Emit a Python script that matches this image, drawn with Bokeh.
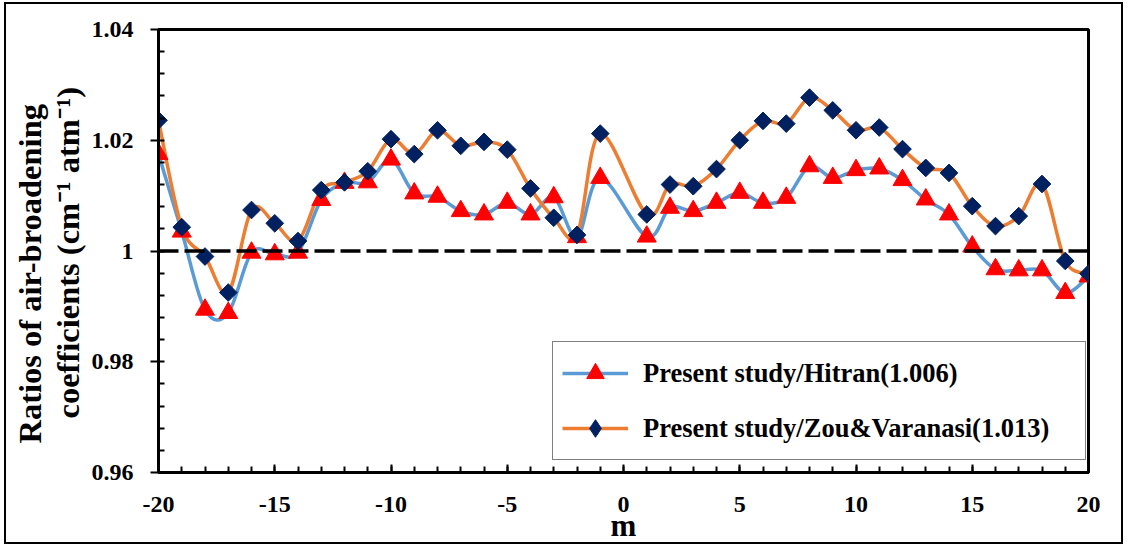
import numpy as np
from bokeh.plotting import figure
from bokeh.models import (FixedTicker, Span, Legend, LegendItem, ColumnDataSource, Range1d, Title)
from bokeh.embed import file_html
from bokeh.resources import INLINE

# ---- data ----
m = [-20, -19, -18, -17, -16, -15, -14, -13, -12, -11, -10, -9, -8, -7, -6, -5, -4, -3, -2, -1,
     1, 2, 3, 4, 5, 6, 7, 8, 9, 10, 11, 12, 13, 14, 15, 16, 17, 18, 19, 20]
hitran = [1.0175, 1.0035, 0.9894, 0.9888, 0.9997, 0.9994, 0.9997, 1.0092, 1.0123, 1.0124,
          1.0165, 1.0104, 1.0098, 1.0072, 1.0066, 1.0087, 1.0066, 1.0097, 1.0025, 1.0132,
          1.0026, 1.0078, 1.0072, 1.0087, 1.0105, 1.0087, 1.0096, 1.0153, 1.0132, 1.0146,
          1.0149, 1.0128, 1.0093, 1.0066, 1.0008, 0.9967, 0.9965, 0.9965, 0.9924, 0.9954]
zou = [1.0236, 1.0043, 0.9990, 0.9925, 1.0074, 1.0050, 1.0018, 1.0110, 1.0124, 1.0144,
       1.0202, 1.0175, 1.0218, 1.0190, 1.0197, 1.0183, 1.0113, 1.0060, 1.0029, 1.0212,
       1.0066, 1.0120, 1.0117, 1.0148, 1.0200, 1.0235, 1.0230, 1.0277, 1.0254, 1.0218,
       1.0223, 1.0184, 1.0150, 1.0141, 1.0081, 1.0045, 1.0063, 1.0121, 0.9982, 0.9959]
labels = ["Present study/Hitran(1.006)", "Present study/Zou&Varanasi(1.013)"]
x_ticks = [-20, -15, -10, -5, 0, 5, 10, 15, 20]
x_minor = list(range(-20, 21))
x_tick_labels = {t: str(t) for t in x_ticks}
y_ticks = [0.96, 0.98, 1.0, 1.02, 1.04]
y_minor = [round(0.96 + 0.004 * i, 3) for i in range(21)]
y_tick_labels = {0.96: "0.96", 0.98: "0.98", 1.0: "1", 1.02: "1.02", 1.04: "1.04"}
y_title = ["Ratios of air-broadening", "coefficients (cm\u207b\u00b9 atm\u207b\u00b9)"]
x_title = "m"

FONT = "Liberation Serif"
FONT_SUP = "Liberation Serif, Noto Sans"


def smooth_segments(xs, ys):
    """Catmull-Rom style bezier control points (Excel 'smoothed line')."""
    xs = np.asarray(xs, float)
    ys = np.asarray(ys, float)
    n = len(xs)
    d = dict(x0=[], y0=[], x1=[], y1=[], cx0=[], cy0=[], cx1=[], cy1=[])
    for i in range(n - 1):
        p0 = i - 1 if i > 0 else i
        p3 = i + 2 if i + 2 < n else i + 1
        d["x0"].append(xs[i]); d["y0"].append(ys[i])
        d["x1"].append(xs[i + 1]); d["y1"].append(ys[i + 1])
        d["cx0"].append(xs[i] + (xs[i + 1] - xs[p0]) / 6)
        d["cy0"].append(ys[i] + (ys[i + 1] - ys[p0]) / 6)
        d["cx1"].append(xs[i + 1] - (xs[p3] - xs[i]) / 6)
        d["cy1"].append(ys[i + 1] - (ys[p3] - ys[i]) / 6)
    return ColumnDataSource(d)


p = figure(width=1119, height=542, output_backend="svg", toolbar_location=None,
           x_range=Range1d(-20, 20), y_range=Range1d(0.96, 1.04),
           min_border_left=152, min_border_right=37, min_border_top=25, min_border_bottom=74)
p.styles = {"margin-left": "4px", "margin-top": "2px", "border": "2px solid black"}
p.grid.visible = False
p.background_fill_color = "white"
p.border_fill_color = "white"
p.outline_line_color = "black"
p.outline_line_width = 3

# axes
xa = p.xaxis[0]
xa.ticker = FixedTicker(ticks=x_ticks, minor_ticks=x_minor)
xa.major_label_overrides = x_tick_labels
xa.axis_line_width = 3
xa.major_tick_line_width = 2
xa.minor_tick_line_width = 2
xa.major_tick_in = 8
xa.major_tick_out = 0
xa.minor_tick_in = 6
xa.minor_tick_out = 0
xa.major_label_text_font = FONT
xa.major_label_text_font_style = "bold"
xa.major_label_text_font_size = "24px"
xa.major_label_text_color = "black"
xa.major_label_standoff = 24
xa.axis_label = x_title
xa.axis_label_text_font = FONT
xa.axis_label_text_font_style = "bold"
xa.axis_label_text_font_size = "31px"
xa.axis_label_text_color = "black"
xa.axis_label_standoff = -7

ya = p.yaxis[0]
ya.ticker = FixedTicker(ticks=y_ticks, minor_ticks=y_minor)
ya.major_label_overrides = y_tick_labels
ya.axis_line_width = 3
ya.major_tick_line_width = 2
ya.minor_tick_line_width = 2
ya.major_tick_in = 0
ya.major_tick_out = 8
ya.minor_tick_in = 6
ya.minor_tick_out = 0
ya.major_label_text_font = FONT
ya.major_label_text_font_style = "bold"
ya.major_label_text_font_size = "24px"
ya.major_label_text_color = "black"
ya.major_label_standoff = 17

# two-line y title as side titles (inner line first), placed like the reference
for txt, off, so in [(y_title[1], 54, 5), (y_title[0], 29, -5)]:
    p.add_layout(Title(text=txt, align="left", offset=off, standoff=so,
                       text_font=FONT_SUP, text_font_style="bold", text_font_size="32.5px",
                       text_color="black"), "left")

# reference line at 1
p.add_layout(Span(location=1.0, dimension="width", line_color="black",
                  line_width=3.5, line_dash="20 6"))

src_h = smooth_segments(m, hitran)
src_z = smooth_segments(m, zou)
bh = p.bezier(x0="x0", y0="y0", x1="x1", y1="y1", cx0="cx0", cy0="cy0", cx1="cx1", cy1="cy1",
              source=src_h, line_color="#5B9BD5", line_width=3.5)
bz = p.bezier(x0="x0", y0="y0", x1="x1", y1="y1", cx0="cx0", cy0="cy0", cx1="cx1", cy1="cy1",
              source=src_z, line_color="#ED7D31", line_width=3.5)
sh = p.scatter(m, hitran, marker="triangle", size=19, fill_color="#FF0000", line_color="#FF0000")
# diamond glyph used for the legend symbol (hidden under the rotated squares in the plot)
lz = p.scatter(m, zou, marker="diamond", size=11, fill_color="#002060", line_color="#002060")
sz = p.scatter(m, zou, marker="square", angle=np.pi / 4, size=12.5,
               fill_color="#002060", line_color="#002060")

legend = Legend(items=[LegendItem(label=labels[0], renderers=[bh, sh]),
                       LegendItem(label=labels[1], renderers=[bz, lz])],
                location=(394, 12))
legend.label_text_font = FONT
legend.label_text_font_style = "bold"
legend.label_text_font_size = "26.5px"
legend.label_text_color = "black"
legend.glyph_width = 66
legend.glyph_height = 44
legend.label_height = 44
legend.label_width = 433
legend.label_standoff = 15
legend.padding = 9
legend.spacing = 11
legend.margin = 0
legend.border_line_color = "black"
legend.border_line_width = 1.5
legend.background_fill_alpha = 1.0
p.add_layout(legend)

open("out.html", "w").write(file_html(p, INLINE))
